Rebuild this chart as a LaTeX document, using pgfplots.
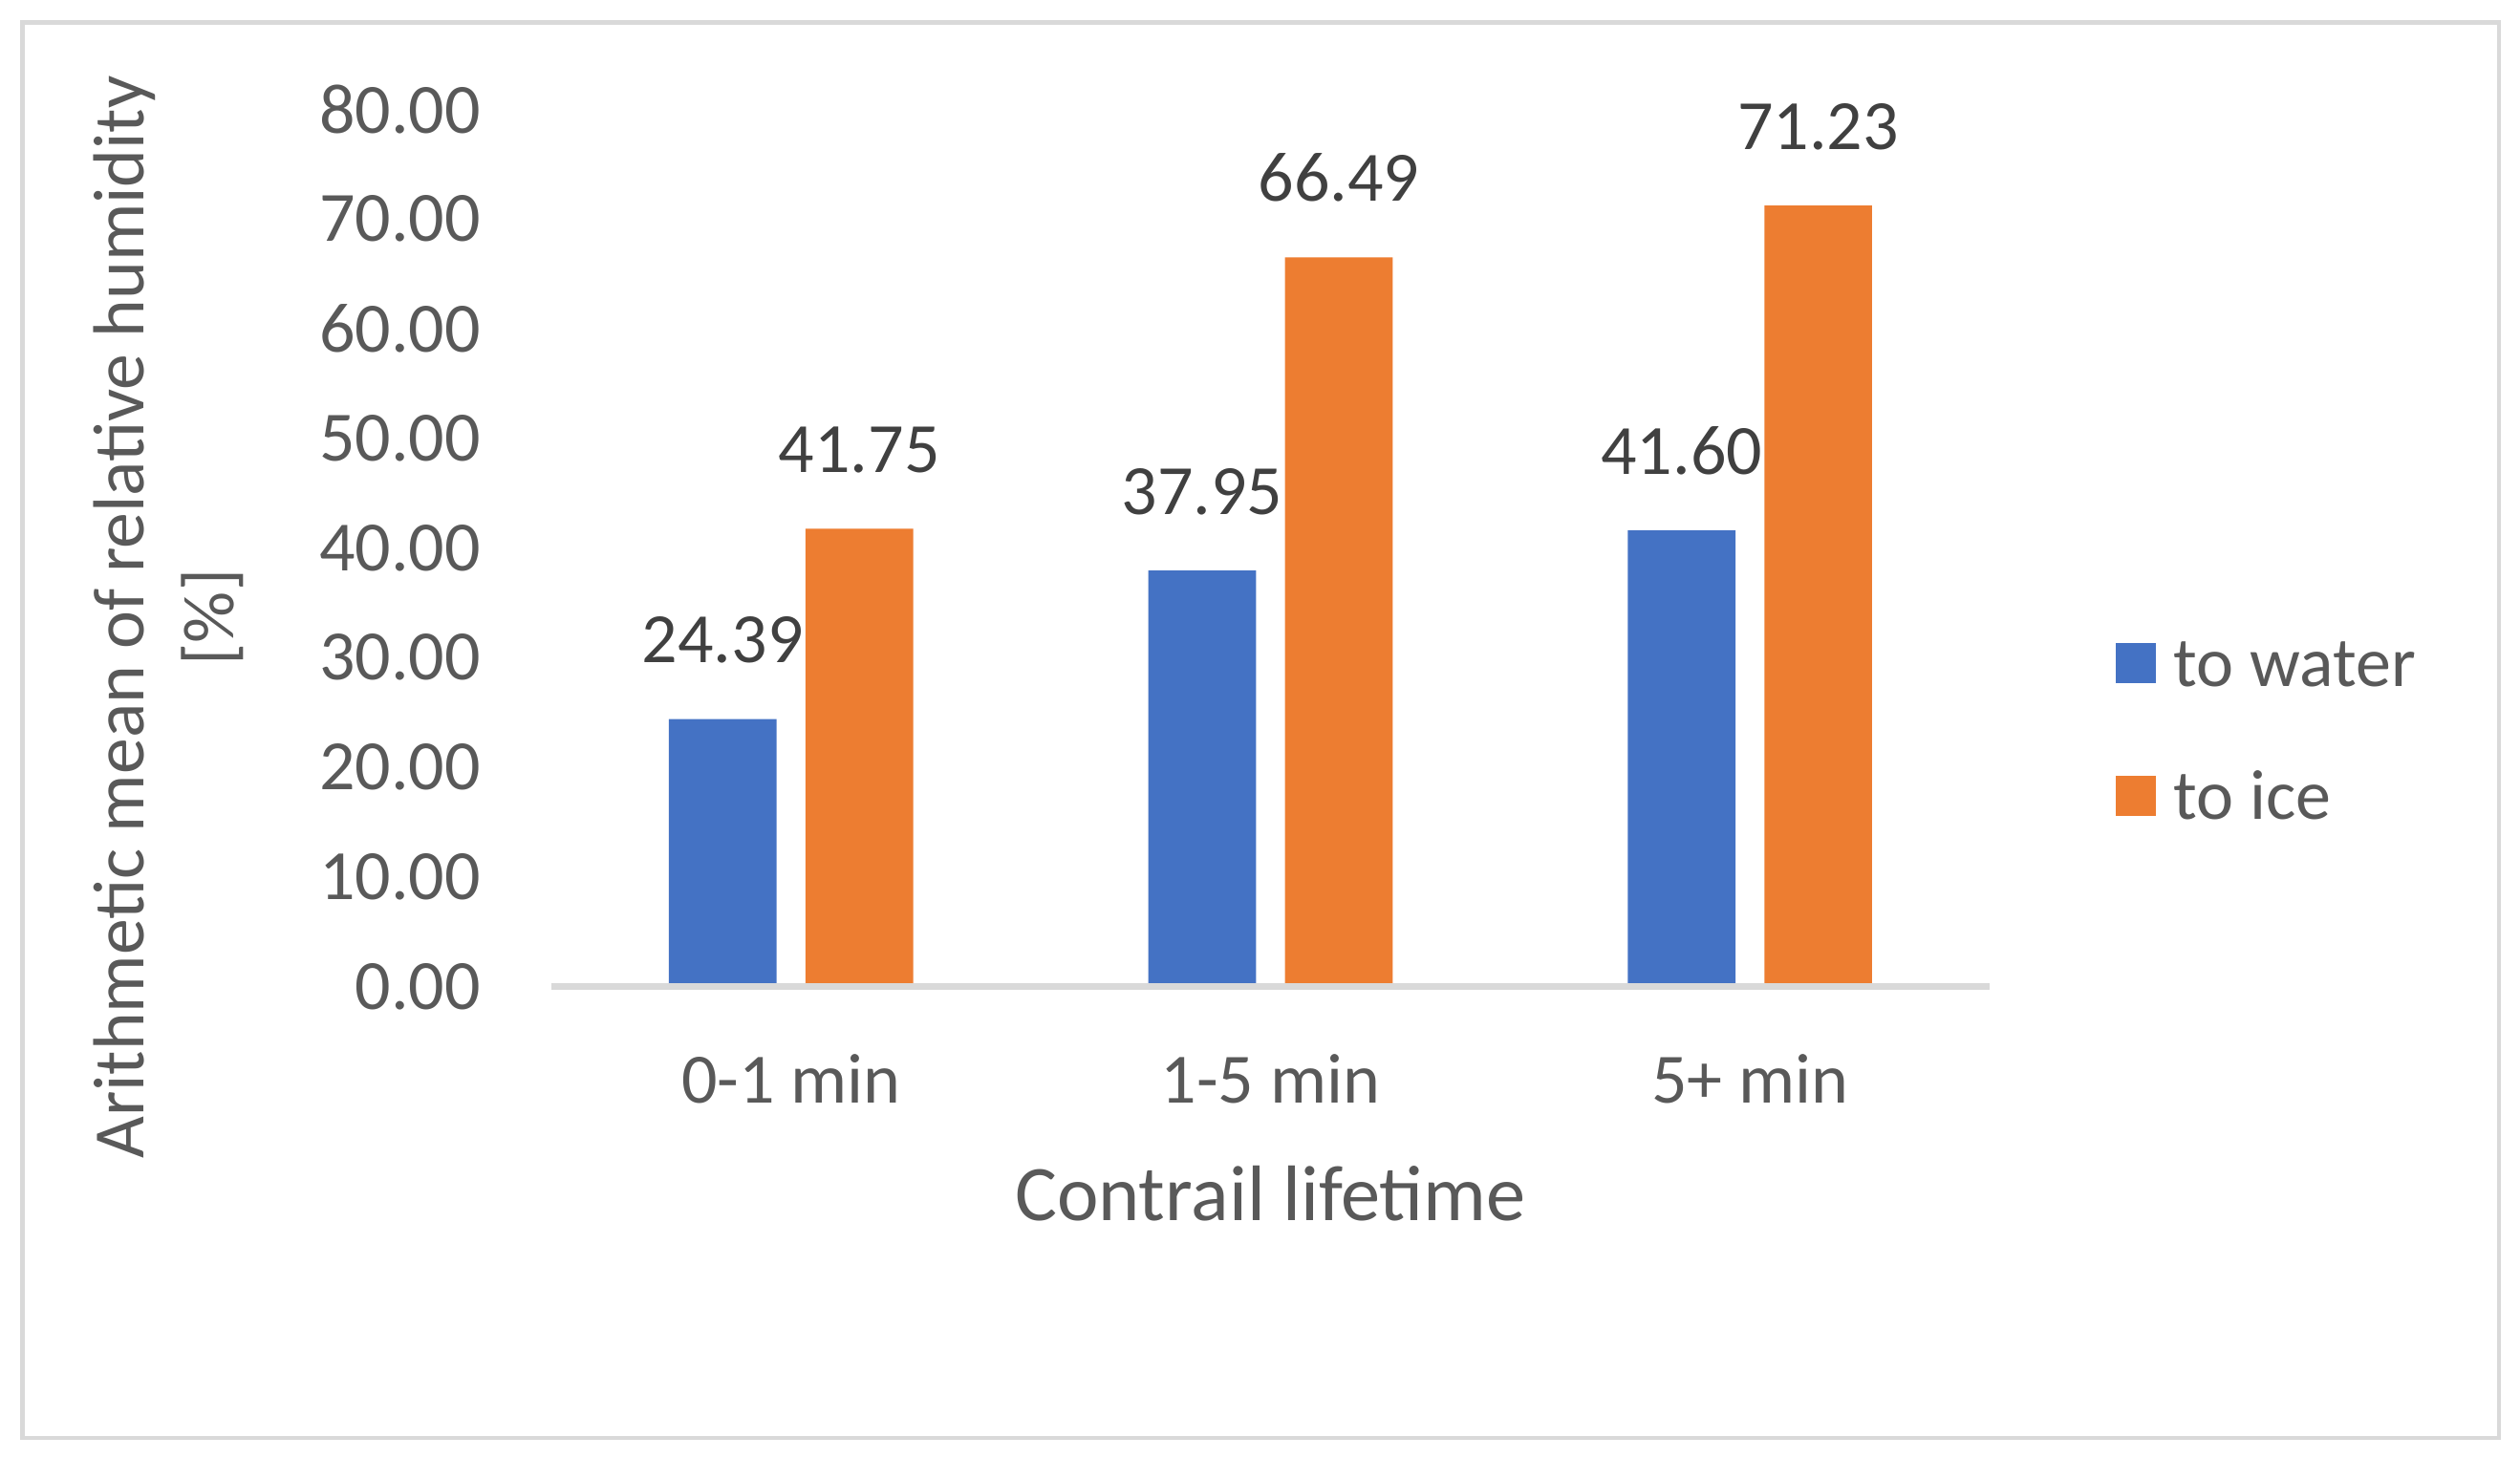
\documentclass[border=0pt]{standalone}
\usepackage{fontspec}
\setmainfont{Carlito}
\usepackage{pgfplots}
\pgfplotsset{compat=1.18}
\definecolor{cblue}{HTML}{4472C4}
\definecolor{corange}{HTML}{ED7D31}
\definecolor{ctext}{HTML}{595959}
\definecolor{clabel}{HTML}{404040}
\definecolor{cgrid}{HTML}{D9D9D9}
\begin{document}
\begin{tikzpicture}
\useasboundingbox (0,0) rectangle (470.4pt,272.1pt);
\draw[cgrid, line width=0.75pt] (4.2pt,3.6pt) rectangle (466.5pt,267.9pt);
\begin{axis}[
  at={(102.9pt,87.9pt)}, anchor=south west,
  scale only axis, width=268.5pt, height=163.8pt,
  xmin=-0.5, xmax=2.5, ymin=0, ymax=80,
  ybar=5.4pt, bar width=20.1pt,
  clip=false,
  axis line style={draw=none},
  tick style={draw=none},
  ytick={0,10,...,80},
  xtick={0,1,2},
  xticklabels={0-1 min, 1-5 min, 5+ min},
  ticklabel style={font=\fontsize{13.2}{15.8}\selectfont, text=ctext, inner sep=0pt},
  yticklabel style={anchor=east, xshift=-13pt},
  xticklabel style={anchor=base, yshift=-17.4pt},
  /pgf/number format/fixed,
  /pgf/number format/fixed zerofill,
  /pgf/number format/precision=2,
  /pgf/number format/assume math mode=true,
  nodes near coords,
  every node near coord/.append style={font=\fontsize{13.2}{15.8}\selectfont, text=clabel, inner sep=0pt, anchor=south, yshift=10.2pt},
  xlabel={Contrail lifetime},
  xlabel style={at={(axis description cs:0.5,0)}, anchor=base, yshift=-43.7pt, inner sep=0pt, font=\fontsize{14.7}{17.6}\selectfont, text=ctext},
  ylabel={Arithmetic mean of relative humidity\\{[\%]}},
  ylabel style={at={(axis description cs:-0.266,0.421)}, anchor=center, align=center, font=\fontsize{13.5}{16.8}\selectfont, text=ctext, inner sep=0pt},
  legend image code/.code={\fill[#1, draw=none] (0pt,-3.75pt) rectangle (7.5pt,3.75pt);},
  legend cell align=left,
  legend style={at={(axis description cs:1.087,0.293)}, anchor=west, draw=none, fill=none, inner sep=0pt,
    font=\fontsize{13.2}{15.8}\selectfont, text=ctext, row sep=16.2pt,
    nodes={inner sep=0pt, text height=8.6pt, text depth=0pt},
    /tikz/every odd column/.append style={column sep=3.3pt}},
]
\addplot[fill=cblue, draw=none] coordinates {(0,24.39) (1,37.95) (2,41.60)};
\addplot[fill=corange, draw=none] coordinates {(0,41.75) (1,66.49) (2,71.23)};
\legend{to water, to ice}
\draw[cgrid, line width=1.35pt] (rel axis cs:0,0) -- (rel axis cs:1,0);
\end{axis}
\end{tikzpicture}
\end{document}
